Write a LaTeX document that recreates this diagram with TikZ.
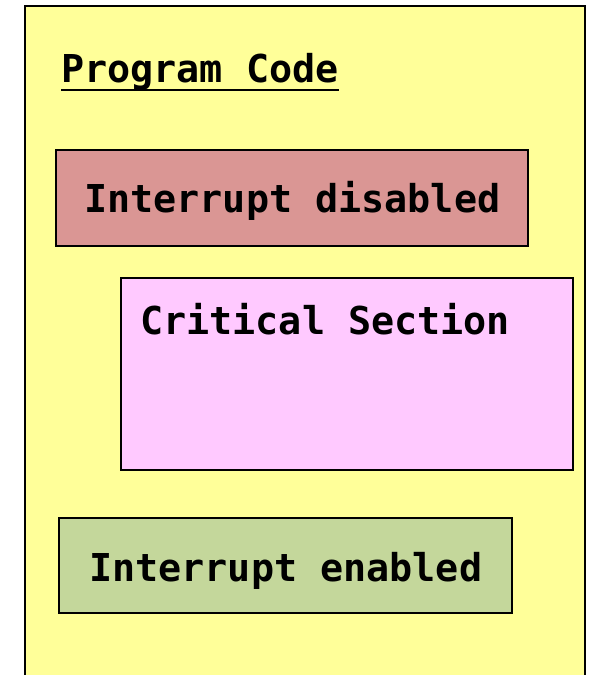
\documentclass[tikz,border=0pt]{standalone}
\usepackage{fontspec}
\newfontfamily\codefont{DejaVu Sans Mono}
\definecolor{paper}{HTML}{FFFF99}
\definecolor{offred}{HTML}{DA9694}
\definecolor{critpink}{HTML}{FFC9FF}
\definecolor{ongreen}{HTML}{C4D79B}
\tikzset{
  panel/.style={draw=black, line width=1.5pt, inner sep=0pt, outer sep=0pt},
  label/.style={anchor=base west, inner sep=0pt, font=\codefont\bfseries\fontsize{38.4}{40}\selectfont}
}
\begin{document}
\begin{tikzpicture}[x=1pt, y=-1pt]
  \useasboundingbox (0,0) rectangle (589,675);
  \fill[white] (0,0) rectangle (589,675);
  % program area, open at the bottom
  \fill[paper] (25,6) rectangle (585,690);
  \draw[line width=2pt] (25,690) -- (25,6) -- (585,6) -- (585,690);
  % heading
  \node[label] (head) at (61,82) {Program Code};
  \draw[line width=1.6pt] (head.base west) ++(0,8) coordinate (ul) -- (ul -| head.base east);
  % blocks
  \node[panel, fill=offred, minimum width=472pt, minimum height=96pt] (off) at (292,198) {};
  \node[label] (offtxt) at (84,212) {Interrupt disabled};
  \node[panel, fill=critpink, minimum width=452pt, minimum height=192pt] (crit) at (347,374) {};
  \node[label] (crittxt) at (140,334) {Critical Section};
  \node[panel, fill=ongreen, minimum width=453pt, minimum height=95pt] (on) at (285.5,565.5) {};
  \node[label] (ontxt) at (89,581) {Interrupt enabled};
\end{tikzpicture}
\end{document}
